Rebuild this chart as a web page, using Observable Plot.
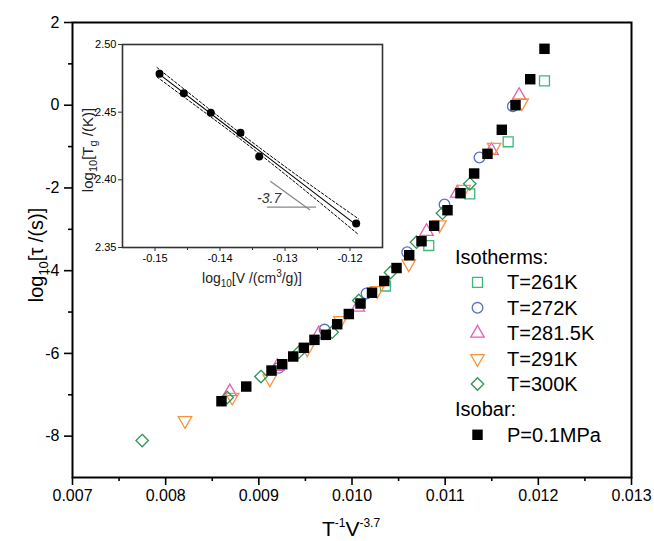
<!DOCTYPE html>
<html><head><meta charset="utf-8">
<script src="https://cdn.jsdelivr.net/npm/d3@7"></script>
<script src="https://cdn.jsdelivr.net/npm/@observablehq/plot@0.6"></script>
<style>
html,body{margin:0;padding:0;background:#fff;}
#wrap{position:relative;width:654px;height:541px;font-family:"Liberation Sans",Arial,sans-serif;}
#wrap svg{position:absolute;overflow:visible;}
</style></head><body><div id="wrap"></div>
<script>
// ---------- main chart data ----------
const xMajor = [0.007, 0.008, 0.009, 0.010, 0.011, 0.012, 0.013];
const xMinor = [0.0075, 0.0085, 0.0095, 0.0105, 0.0115, 0.0125];
const yMajor = [2, 0, -2, -4, -6, -8];
const yMinor = [1, -1, -3, -5, -7];

const seriesNames = ["T=261K", "T=272K", "T=281.5K", "T=291K", "T=300K"];
const seriesColors = ["#3cb878", "#5a6cc4", "#e45fae", "#f7943f", "#2e9657"];

const X261 = [0.010359, 0.010824, 0.011264, 0.011676, 0.012066];
const Y261 = [-4.371, -3.392, -2.142, -0.884, 0.590];
const X272 = [0.009214, 0.009705, 0.010156, 0.010592, 0.010993, 0.011368, 0.011726];
const Y272 = [-6.349, -5.423, -4.552, -3.554, -2.400, -1.264, -0.024];
const X2815 = [0.008688, 0.009197, 0.009644, 0.010062, 0.010800, 0.011129, 0.011497, 0.011794];
const Y2815 = [-6.929, -6.317, -5.527, -4.884, -3.053, -2.127, -1.095, 0.235];
const X291 = [0.008207, 0.008714, 0.009118, 0.009519, 0.009876, 0.010270, 0.010609, 0.010939, 0.011200, 0.011526, 0.011822];
const Y291 = [-7.623, -7.059, -6.615, -5.889, -5.205, -4.480, -3.834, -2.891, -2.030, -1.015, 0.059];
const X300 = [0.007748, 0.008660, 0.009023, 0.009429, 0.009787, 0.010073, 0.010413, 0.010692, 0.010971, 0.011264];
const Y300 = [-8.106, -7.067, -6.559, -5.971, -5.488, -4.721, -4.044, -3.312, -2.611, -1.900];

const isobarName = "P=0.1MPa";
const XP = [0.008599, 0.008865, 0.009136, 0.009251, 0.009369, 0.009483, 0.009597, 0.009719, 0.009841,
            0.009966, 0.010091, 0.010215, 0.010346, 0.010478, 0.010614, 0.010746, 0.010882, 0.011025,
            0.011164, 0.011311, 0.011454, 0.011608, 0.011755, 0.011913, 0.012066];
const YP = [-7.156, -6.801, -6.414, -6.262, -6.075, -5.865, -5.672, -5.551, -5.294,
            -5.048, -4.794, -4.533, -4.250, -3.936, -3.626, -3.288, -2.915, -2.538,
            -2.127, -1.651, -1.175, -0.594, 0.000, 0.629, 1.364];

// ---------- inset data ----------
const insetX = [-0.1493, -0.14557, -0.14142, -0.13685, -0.13397, -0.11905];
const insetY = [2.4784, 2.4640, 2.4495, 2.4348, 2.4172, 2.3677];
const bandX = [-0.1497, -0.1420, -0.1360, -0.1280, -0.1187];
const bandUpper = [2.4830, 2.4536, 2.4313, 2.4028, 2.3712];
const bandLower = [2.4760, 2.4486, 2.4269, 2.3964, 2.3596];
const slopeHX = [-0.1327, -0.1253], slopeHY = [2.3798, 2.3798];
const slopeDX = [-0.1322, -0.1262], slopeDY = [2.3988, 2.3779];
const slopeLabel = "-3.7", slopeLabelX = -0.1343, slopeLabelY = 2.3862;
const insetXMajor = [-0.15, -0.14, -0.13, -0.12];
const insetXMinor = [-0.145, -0.135, -0.125];
const insetYMajor = [2.35, 2.40, 2.45, 2.50];

// ---------- helpers ----------
const FONT = "'Liberation Sans', Arial, sans-serif";
const zip = (xs, ys) => xs.map((x, i) => ({x, y: ys[i]}));
const triangleDown = {
  draw(context, size) {
    const y = -Math.sqrt(size / (Math.sqrt(3) * 3));
    context.moveTo(0, -y * 2);
    context.lineTo(-Math.sqrt(3) * y, y);
    context.lineTo(Math.sqrt(3) * y, y);
    context.closePath();
  }
};
const seriesX = [X261, X272, X2815, X291, X300];
const seriesY = [Y261, Y272, Y2815, Y291, Y300];
const seriesSymbols = ["square", "circle", "triangle", triangleDown, "diamond2"];
const seriesR = [5.6, 5.3, 5.0, 5.0, 5.6];
const d3Sym = {square: d3.symbolSquare, circle: d3.symbolCircle, triangle: d3.symbolTriangle, diamond2: d3.symbolDiamond2};

const wrap = document.getElementById("wrap");

// ---------- main plot ----------
const main = Plot.plot({
  width: 654, height: 541,
  marginLeft: 72, marginRight: 23, marginTop: 22, marginBottom: 64,
  x: {domain: [0.007, 0.013]},
  y: {domain: [-9, 2]},
  style: {fontFamily: FONT, fontSize: "16px", background: "white", color: "black", overflow: "visible"},
  marks: [
    Plot.axisX(xMinor, {tickSize: 4, tickFormat: () => "", label: null, strokeWidth: 1.6}),
    Plot.axisX(xMajor, {tickSize: 8, tickPadding: 4, tickFormat: d => d.toFixed(3), label: null, strokeWidth: 1.6, fontSize: 16}),
    Plot.axisY(yMinor, {tickSize: 4, tickFormat: () => "", label: null, strokeWidth: 1.6}),
    Plot.axisY(yMajor, {tickSize: 8, tickPadding: 5, tickFormat: d => String(d), label: null, strokeWidth: 1.6, fontSize: 16}),
    Plot.frame({stroke: "black", strokeWidth: 2}),
    ...seriesX.map((xs, i) => Plot.dot(zip(xs, seriesY[i]), {
      x: "x", y: "y", symbol: seriesSymbols[i], r: seriesR[i],
      stroke: seriesColors[i], fill: "none", strokeWidth: 1.3
    })),
    Plot.dot(zip(XP, YP), {x: "x", y: "y", symbol: "square", r: 5.9, fill: "black", stroke: "none"})
  ]
});
main.style.left = "0px"; main.style.top = "0px";
wrap.appendChild(main);

const ms = d3.select(main);
// y axis label
const yl = ms.append("text").attr("transform", "translate(43,255) rotate(-90)")
  .attr("text-anchor", "middle").attr("font-size", 20).attr("fill", "black").attr("font-family", FONT);
yl.append("tspan").text("log");
yl.append("tspan").attr("font-size", 13).attr("dy", 5).text("10");
yl.append("tspan").attr("dy", -5).text("[τ /(s)]");
// x axis label
const xl = ms.append("text").attr("x", 351).attr("y", 536)
  .attr("text-anchor", "middle").attr("font-size", 21).attr("fill", "black").attr("font-family", FONT);
xl.append("tspan").text("T");
xl.append("tspan").attr("font-size", 12).attr("dy", -9).text("-1");
xl.append("tspan").attr("dy", 9).text("V");
xl.append("tspan").attr("font-size", 12).attr("dy", -9).text("-3.7");

// legend
const lg = ms.append("g").attr("font-family", FONT).attr("font-size", 20).attr("fill", "black")
  .attr("text-anchor", "start");
const rowY0 = 257, rowStep = 25.4;
lg.append("text").attr("x", 455).attr("y", rowY0).attr("dy", "0.35em").text("Isotherms:");
seriesNames.forEach((name, i) => {
  const cy = rowY0 + rowStep * (i + 1);
  const sym = seriesSymbols[i];
  const type = typeof sym === "string" ? d3Sym[sym] : sym;
  lg.append("path").attr("transform", `translate(477.5,${cy})`)
    .attr("d", d3.symbol(type, Math.PI * seriesR[i] * seriesR[i])())
    .attr("fill", "none").attr("stroke", seriesColors[i]).attr("stroke-width", 1.3);
  lg.append("text").attr("x", 507).attr("y", cy).attr("dy", "0.35em").text(name);
});
lg.append("text").attr("x", 455).attr("y", rowY0 + rowStep * 6).attr("dy", "0.35em").text("Isobar:");
lg.append("path").attr("transform", `translate(477.5,${rowY0 + rowStep * 7})`)
  .attr("d", d3.symbol(d3.symbolSquare, Math.PI * 5.9 * 5.9)()).attr("fill", "black");
lg.append("text").attr("x", 507).attr("y", rowY0 + rowStep * 7).attr("dy", "0.35em").text(isobarName);

// ---------- inset ----------
const inset = Plot.plot({
  width: 340, height: 270,
  marginLeft: 62, marginTop: 14, marginRight: 18, marginBottom: 53,
  x: {domain: [-0.155, -0.115]},
  y: {domain: [2.35, 2.50]},
  style: {fontFamily: FONT, fontSize: "11px", background: "transparent", color: "black", overflow: "visible"},
  marks: [
    Plot.axisX(insetXMinor, {tickSize: 3, tickFormat: () => "", label: null, stroke: "#333"}),
    Plot.axisX(insetXMajor, {tickSize: 4, tickPadding: 3, tickFormat: d => d.toFixed(2), label: null, stroke: "#333", fontSize: 11}),
    Plot.axisY(insetYMajor, {tickSize: 4, tickPadding: 2, tickFormat: d => d.toFixed(2), label: null, stroke: "#333", fontSize: 11}),
    Plot.frame({stroke: "#333", strokeWidth: 1.6}),
    Plot.line(zip(bandX, bandUpper), {x: "x", y: "y", curve: "natural", stroke: "black", strokeWidth: 1, strokeDasharray: "2.5,2"}),
    Plot.line(zip(bandX, bandLower), {x: "x", y: "y", curve: "natural", stroke: "black", strokeWidth: 1, strokeDasharray: "2.5,2"}),
    Plot.linearRegressionY(zip(insetX, insetY), {x: "x", y: "y", ci: 0, stroke: "black", strokeWidth: 1.1}),
    Plot.line(zip(slopeHX, slopeHY), {x: "x", y: "y", stroke: "#888", strokeWidth: 1.3}),
    Plot.line(zip(slopeDX, slopeDY), {x: "x", y: "y", stroke: "#888", strokeWidth: 1.3}),
    Plot.text([{x: slopeLabelX, y: slopeLabelY, t: slopeLabel}], {x: "x", y: "y", text: "t", textAnchor: "start", fontStyle: "italic", fontSize: 14, fill: "#333"}),
    Plot.dot(zip(insetX, insetY), {x: "x", y: "y", r: 4, fill: "black", stroke: "none"})
  ]
});
inset.style.left = "60px"; inset.style.top = "30px";
wrap.appendChild(inset);

const is = d3.select(inset);
const iyl = is.append("text").attr("transform", "translate(33,120) rotate(-90)")
  .attr("text-anchor", "middle").attr("font-size", 15).attr("fill", "#222").attr("font-family", FONT);
iyl.append("tspan").text("log");
iyl.append("tspan").attr("font-size", 11).attr("dy", 4).text("10");
iyl.append("tspan").attr("dy", -4).text("[T");
iyl.append("tspan").attr("font-size", 11).attr("dy", 4).text("g");
iyl.append("tspan").attr("dy", -4).text(" /(K)]");
const ixl = is.append("text").attr("x", 192).attr("y", 253)
  .attr("text-anchor", "middle").attr("font-size", 14).attr("fill", "#222").attr("font-family", FONT);
ixl.append("tspan").text("log");
ixl.append("tspan").attr("font-size", 10).attr("dy", 4).text("10");
ixl.append("tspan").attr("dy", -4).text("[V /(cm");
ixl.append("tspan").attr("font-size", 10).attr("dy", -6).text("3");
ixl.append("tspan").attr("dy", 6).text("/g)]");
</script></body></html>
